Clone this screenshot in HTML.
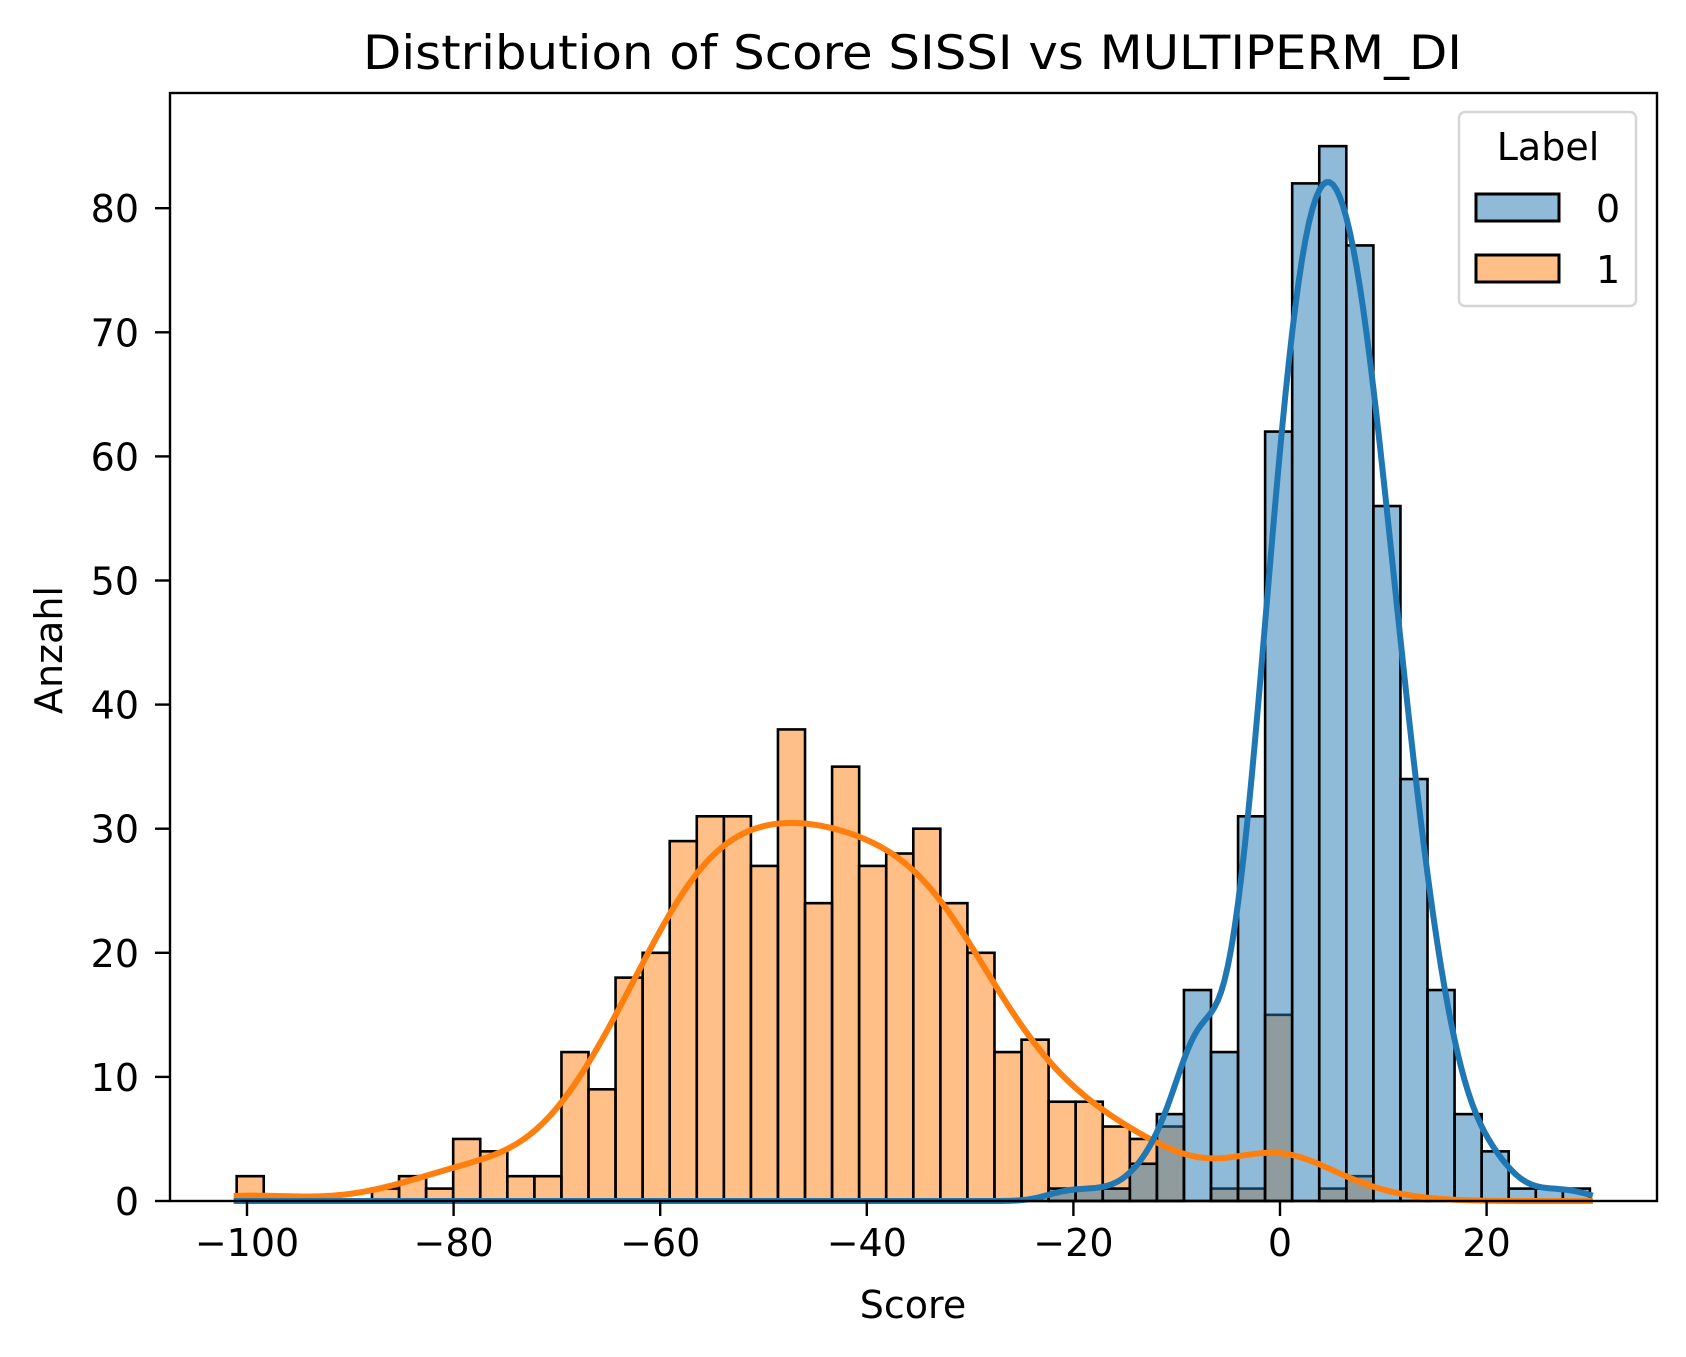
<!DOCTYPE html>
<html><head><meta charset="utf-8"><style>
html,body{margin:0;padding:0;background:#fff;}
svg{display:block;font-family:"DejaVu Sans","Liberation Sans",sans-serif;}
</style></head><body>
<svg id="chart" width="1686" height="1357" viewBox="0 0 1686 1357" xmlns="http://www.w3.org/2000/svg">
<rect x="0" y="0" width="1686" height="1357" fill="#fff"/>
<g id="bars"></g>
<g id="kde"></g>
<g id="axes"></g>
<text x="363" y="69" font-size="47" textLength="1099" lengthAdjust="spacingAndGlyphs">Distribution of Score SISSI vs MULTIPERM_DI</text>
<text x="913" y="1318" font-size="38" text-anchor="middle">Score</text>
<text transform="translate(62,650) rotate(-90)" font-size="38" text-anchor="middle">Anzahl</text>
<g>
<rect x="1459" y="112" width="177" height="194" rx="6" fill="#fff" fill-opacity="0.8" stroke="#d6d6d6" stroke-width="2.5"/>
<text x="1548" y="160" font-size="38" text-anchor="middle">Label</text>
<rect x="1476" y="194" width="83" height="27" fill="#8fbbd9" stroke="#000" stroke-width="3"/>
<text x="1596" y="222" font-size="38">0</text>
<rect x="1476" y="255" width="83" height="27" fill="#ffbf86" stroke="#000" stroke-width="3"/>
<text x="1596" y="283" font-size="38">1</text>
</g>
</svg>
<script>
const binStart = -101.0;
const binWidth = 2.62;
const countsLabel1 = [2,0,0,0,0,1,2,1,5,4,2,2,12,9,18,20,29,31,31,27,38,24,35,27,28,30,24,20,12,13,8,8,6,5,6,0,1,1,15,0,1,2,0,0,0,0,0,0,0,0];
const countsLabel0 = [0,0,0,0,0,0,0,0,0,0,0,0,0,0,0,0,0,0,0,0,0,0,0,0,0,0,0,0,0,0,1,1,1,3,7,17,12,31,62,82,85,77,56,34,17,7,4,1,1,1];
const xTicks = [-100,-80,-60,-40,-20,0,20];
const yTicks = [0,10,20,30,40,50,60,70,80];

const L=170, R=1657, T=93, B=1201;
function xs(v){ return 1280 + v*10.33; }
function ys(v){ return B - v*12.41; }
const NS='http://www.w3.org/2000/svg';
function mk(tag, attrs, parent){ const e=document.createElementNS(NS,tag); for(const k in attrs) e.setAttribute(k, attrs[k]); parent.appendChild(e); return e; }

const bars=document.getElementById('bars');
function drawBars(counts, fill, name){
  counts.forEach((c,i)=>{
    const x0=xs(binStart+i*binWidth), x1=xs(binStart+(i+1)*binWidth);
    const r=mk('rect',{x:x0,y:ys(c),width:x1-x0,height:ys(0)-ys(c),fill:fill,'fill-opacity':0.5,stroke:'#000','stroke-width':2.6},bars);
    
    
  });
}
drawBars(countsLabel1,'#ff7f0e','label-1');
drawBars(countsLabel0,'#1f77b4','label-0');

const kde=document.getElementById('kde');
function drawKde(counts,color,name){
  let n=0,m=0; counts.forEach((c,i)=>{n+=c; m+=c*(binStart+(i+0.5)*binWidth);}); m/=n;
  let v=0; counts.forEach((c,i)=>{const x=binStart+(i+0.5)*binWidth; v+=c*(x-m)*(x-m);}); v/=(n-1);
  const bw=Math.sqrt(v)*Math.pow(n,-0.2);
  const lo=binStart, hi=binStart+counts.length*binWidth;
  let d='';
  for(let s=0;s<=400;s++){
    const x=lo+(hi-lo)*s/400; let dens=0;
    counts.forEach((c,i)=>{const xc=binStart+(i+0.5)*binWidth; const z=(x-xc)/bw; dens+=c*Math.exp(-0.5*z*z);});
    dens/= (n*bw*Math.sqrt(2*Math.PI));
    const y=dens*n*binWidth;
    d+=(s?'L':'M')+xs(x).toFixed(2)+','+ys(y).toFixed(2);
  }
  const p=mk('path',{d:d,fill:'none',stroke:color,'stroke-width':6,'stroke-linejoin':'round','stroke-linecap':'square'},kde);
  
  
}
drawKde(countsLabel1,'#ff7f0e','label-1');
drawKde(countsLabel0,'#1f77b4','label-0');

const axes=document.getElementById('axes');
const frame=mk('rect',{x:L,y:T,width:R-L,height:B-T,fill:'none',stroke:'#000','stroke-width':2.4},axes);


xTicks.forEach(t=>{
  const tl=mk('line',{x1:xs(t),x2:xs(t),y1:B,y2:B+15,stroke:'#000','stroke-width':2.4},axes);
  
  
  const tx=mk('text',{x:xs(t),y:B+55,'font-size':38,'text-anchor':'middle'},axes);
  tx.textContent=(t<0?'\u2212'+(-t):String(t));
  
  
});
yTicks.forEach(t=>{
  const tl=mk('line',{x1:L-15,x2:L,y1:ys(t),y2:ys(t),stroke:'#000','stroke-width':2.4},axes);
  
  
  const tx=mk('text',{x:L-31,y:ys(t)+14,'font-size':38,'text-anchor':'end'},axes);
  tx.textContent=String(t);
  
  
});
</script>
</body></html>
